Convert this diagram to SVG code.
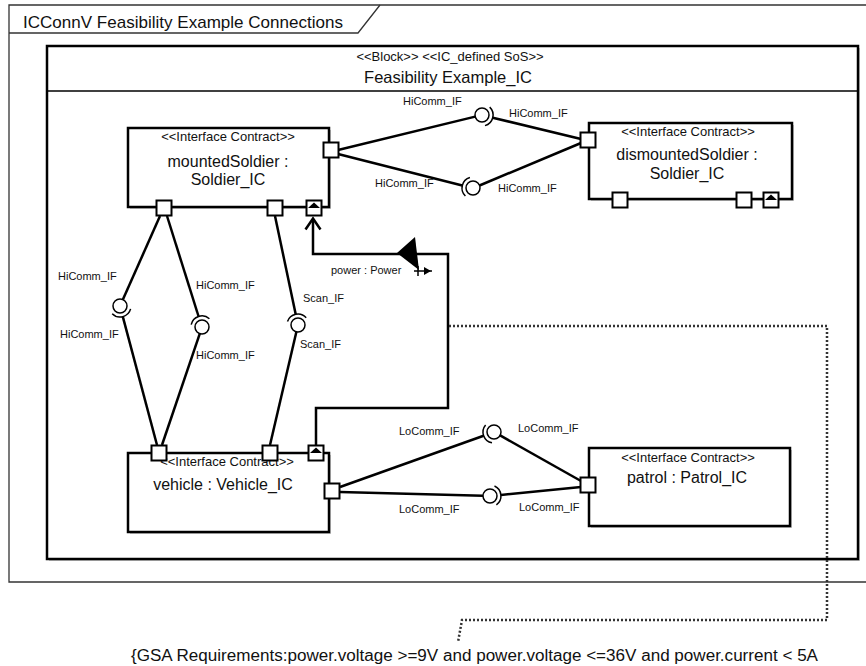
<svg xmlns="http://www.w3.org/2000/svg" width="866" height="666" viewBox="0 0 866 666">
<style>
text{font-family:"Liberation Sans",Arial,sans-serif;fill:#111}
.lbl{font-size:11px}
.st{font-size:13px}
.nm{font-size:16px}
.box{fill:#fff;stroke:#000;stroke-width:2.5}
.sh{fill:#c8c8c8}
.port{fill:#fff;stroke:#000;stroke-width:2}
.ln{fill:none;stroke:#000;stroke-width:2.5}
.ball{fill:#fff;stroke:#000;stroke-width:1.5}
.sock{fill:none;stroke:#000;stroke-width:1.5}
</style>
<rect x="0" y="0" width="866" height="666" fill="#fff"/>
<g id="frame">
<path d="M866,5 L9,5 L9,582 L866,582" fill="none" stroke="#333" stroke-width="1.3"/>
<path d="M9,33 L358,33 L380,5" fill="none" stroke="#333" stroke-width="1.3"/>
<text x="23" y="28" font-size="17" textLength="320" lengthAdjust="spacingAndGlyphs">ICConnV Feasibility Example Connections</text>
</g>
<g id="block">
<rect x="49" y="48" width="811" height="513" class="sh"/>
<rect x="47" y="46" width="811" height="513" class="box"/>
<line x1="47" y1="91" x2="858" y2="91" stroke="#000" stroke-width="1.5"/>
<text x="450" y="61" class="st" text-anchor="middle">&lt;&lt;Block&gt;&gt; &lt;&lt;IC_defined SoS&gt;&gt;</text>
<text x="448" y="83" font-size="16.5" text-anchor="middle">Feasibility Example_IC</text>
</g>
<g id="connectors">
<path class="ln" d="M338,150 L475.2,116.6"/>
<path class="ln" d="M492.7,117.7 L581,139"/>
<path class="ln" d="M338,154 L462.3,185.5"/>
<path class="ln" d="M479.5,185.5 L581,143"/>
<path class="ln" d="M160,216 L122.9,299.6"/>
<path class="ln" d="M122.8,316.6 L157,445"/>
<path class="ln" d="M167,216 L198.6,316.5"/>
<path class="ln" d="M199.8,333.6 L162,445"/>
<path class="ln" d="M275,216 L295.7,314.2"/>
<path class="ln" d="M296.4,331.8 L270,445"/>
<path class="ln" d="M340,487 L483.6,435.7"/>
<path class="ln" d="M500.1,435.4 L581,481"/>
<path class="ln" d="M340,492 L483,495.8"/>
<path class="ln" d="M500.9,494.9 L581,487"/>
<path class="ln" d="M316,445 L316,408 L448,408 L448,254 L313,254 L313,219"/>
<path class="ln" d="M305.5,229.5 L313,218.5 L320.5,229.5"/>
<polygon points="397,253 415,237 419,270" fill="#000"/>
<path d="M414,271 L432,271 M418,266 L418,276" stroke="#000" stroke-width="1.5" fill="none"/>
<polygon points="424,267 431,271 424,275" fill="#000"/>
<path d="M449,326 L827,326 L827,620 L462,620 L458,642" fill="none" stroke="#333" stroke-width="2.5" stroke-dasharray="2,2"/>
<circle class="ball" cx="482" cy="115" r="7"/>
<path class="sock" d="M489.7,107.1 A11,11 0 0 1 485,125.6"/>
<circle class="ball" cx="473" cy="188" r="7"/>
<path class="sock" d="M465.4,196 A11,11 0 0 1 469.9,177.5"/>
<circle class="ball" cx="120" cy="306" r="7"/>
<path class="sock" d="M130.6,308.9 A11,11 0 0 1 112.2,313.8"/>
<circle class="ball" cx="202" cy="327" r="7"/>
<path class="sock" d="M191.2,324.7 A11,11 0 0 1 209.4,318.8"/>
<circle class="ball" cx="298" cy="325" r="7"/>
<path class="sock" d="M287.5,321.6 A11,11 0 0 1 306.2,317.7"/>
<circle class="ball" cx="494" cy="432" r="7"/>
<path class="sock" d="M492,442.8 A11,11 0 0 1 485.6,424.9"/>
<circle class="ball" cx="490" cy="496" r="7"/>
<path class="sock" d="M494.5,486 A11,11 0 0 1 496.4,504.9"/>
<text class="lbl" x="403" y="105">HiComm_IF</text>
<text class="lbl" x="509" y="117">HiComm_IF</text>
<text class="lbl" x="375" y="187">HiComm_IF</text>
<text class="lbl" x="498" y="192">HiComm_IF</text>
<text class="lbl" x="58" y="280">HiComm_IF</text>
<text class="lbl" x="60" y="338">HiComm_IF</text>
<text class="lbl" x="196" y="289">HiComm_IF</text>
<text class="lbl" x="196" y="359">HiComm_IF</text>
<text class="lbl" x="303" y="302">Scan_IF</text>
<text class="lbl" x="300" y="348">Scan_IF</text>
<text class="lbl" x="331" y="274">power : Power</text>
<text class="lbl" x="399" y="435">LoComm_IF</text>
<text class="lbl" x="518" y="432">LoComm_IF</text>
<text class="lbl" x="399" y="513">LoComm_IF</text>
<text class="lbl" x="519" y="511">LoComm_IF</text>
</g>
<g id="mountedSoldier">
<rect x="130" y="130" width="201" height="79" class="sh"/>
<rect x="128" y="128" width="201" height="79" class="box"/>
<text x="228" y="141" class="st" text-anchor="middle">&lt;&lt;Interface Contract&gt;&gt;</text>
<text x="228" y="167" class="nm" text-anchor="middle">mountedSoldier :</text>
<text x="228" y="185" class="nm" text-anchor="middle">Soldier_IC</text>
<rect x="323.5" y="142.5" width="15" height="15" class="port"/>
<rect x="156.5" y="200.5" width="15" height="15" class="port"/>
<rect x="267.5" y="200.5" width="15" height="15" class="port"/>
<rect x="306.5" y="200.5" width="15" height="15" class="port"/>
<polygon points="308,208 320,208 314,202.5" fill="#000"/>
</g>
<g id="dismountedSoldier">
<rect x="591" y="125" width="203" height="76" class="sh"/>
<rect x="589" y="123" width="203" height="76" class="box"/>
<text x="688" y="136" class="st" text-anchor="middle">&lt;&lt;Interface Contract&gt;&gt;</text>
<text x="687" y="160" class="nm" text-anchor="middle">dismountedSoldier :</text>
<text x="687" y="179" class="nm" text-anchor="middle">Soldier_IC</text>
<rect x="580.5" y="132.5" width="15" height="15" class="port"/>
<rect x="612.5" y="192.5" width="15" height="15" class="port"/>
<rect x="736.5" y="192.5" width="15" height="15" class="port"/>
<rect x="763.5" y="192.5" width="15" height="15" class="port"/>
<polygon points="765,200 777,200 771,194.5" fill="#000"/>
</g>
<g id="vehicle">
<rect x="130" y="455" width="201" height="79" class="sh"/>
<rect x="128" y="453" width="201" height="79" class="box"/>
<text x="227" y="466" class="st" text-anchor="middle">&lt;&lt;Interface Contract&gt;&gt;</text>
<text x="223" y="490" class="nm" text-anchor="middle">vehicle : Vehicle_IC</text>
<rect x="151.5" y="445.5" width="15" height="15" class="port"/>
<rect x="262.5" y="445.5" width="15" height="15" class="port"/>
<rect x="308.5" y="445.5" width="15" height="15" class="port"/>
<polygon points="310,453 322,453 316,447.5" fill="#000"/>
<rect x="324.5" y="483.5" width="15" height="15" class="port"/>
</g>
<g id="patrol">
<rect x="591" y="450" width="201" height="78" class="sh"/>
<rect x="589" y="448" width="201" height="78" class="box"/>
<text x="688" y="462" class="st" text-anchor="middle">&lt;&lt;Interface Contract&gt;&gt;</text>
<text x="687" y="483" class="nm" text-anchor="middle">patrol : Patrol_IC</text>
<rect x="580.5" y="477.5" width="15" height="15" class="port"/>
</g>
<g id="constraint">
<text x="131" y="661" font-size="16" textLength="687" lengthAdjust="spacingAndGlyphs">{GSA Requirements:power.voltage &gt;=9V and power.voltage &lt;=36V and power.current &lt; 5A</text>
</g>
</svg>
